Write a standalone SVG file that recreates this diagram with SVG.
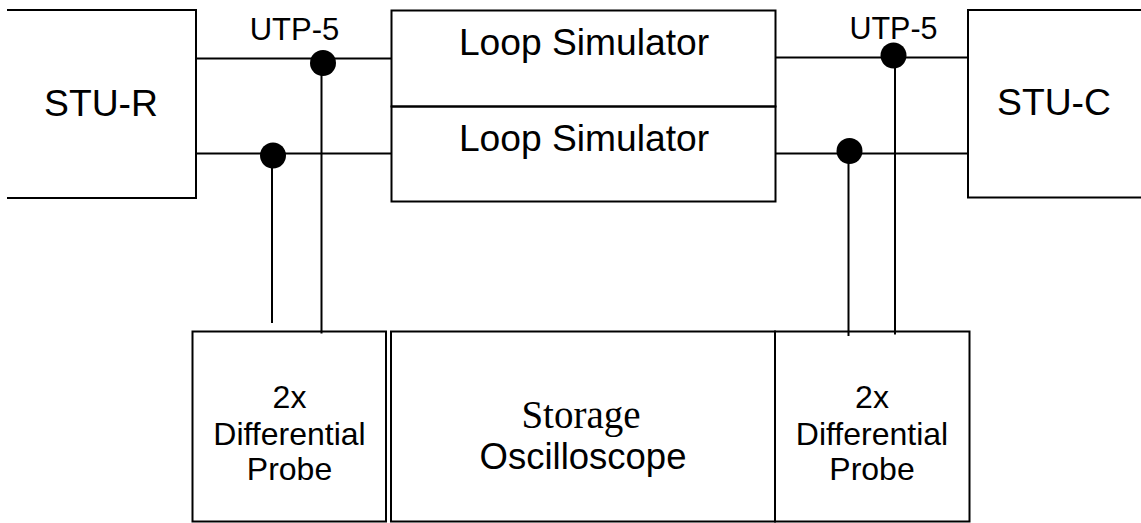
<svg xmlns="http://www.w3.org/2000/svg" width="1141" height="523" viewBox="0 0 1141 523">
<style>
.box{fill:none;stroke:#000;stroke-width:2}
.wire{fill:none;stroke:#000;stroke-width:2}
.dot{fill:#000}
.s{font-family:"Liberation Sans",Arial,sans-serif;fill:#000;text-anchor:middle}
.t{font-family:"Liberation Serif","Times New Roman",serif;fill:#000;text-anchor:middle}
</style>
<rect width="1141" height="523" fill="#fff"/>
<g id="stu-r">
<path class="box" d="M7,10 H196 V198 H7"/>
<text class="s" x="101" y="116" font-size="37.3">STU-R</text>
</g>
<g id="stu-c">
<path class="box" d="M1141,10 H968 V197.5 H1141"/>
<text class="s" x="1054" y="115" font-size="37.3">STU-C</text>
</g>
<g id="loop-sim-1">
<rect class="box" x="391.5" y="10.5" width="384" height="96"/>
<text class="s" x="584" y="55" font-size="37.2">Loop Simulator</text>
</g>
<g id="loop-sim-2">
<rect class="box" x="391.5" y="106.5" width="384" height="95"/>
<text class="s" x="584" y="150.5" font-size="37.2">Loop Simulator</text>
</g>
<g id="probe-left">
<rect class="box" x="192.5" y="331.5" width="193.5" height="190"/>
<text class="s" font-size="32" x="289.5" y="408">2x</text>
<text class="s" font-size="32" x="289.5" y="444.5">Differential</text>
<text class="s" font-size="32" x="289.5" y="480">Probe</text>
</g>
<g id="oscilloscope">
<rect class="box" x="391" y="331.5" width="384" height="190"/>
<text class="t" font-size="39" x="581" y="427.5">Storage</text>
<text class="s" font-size="36.5" x="583" y="468.5">Oscilloscope</text>
</g>
<g id="probe-right">
<rect class="box" x="775" y="331.5" width="194.5" height="190"/>
<text class="s" font-size="32" x="872" y="408">2x</text>
<text class="s" font-size="32" x="872" y="444.5">Differential</text>
<text class="s" font-size="32" x="872" y="480">Probe</text>
</g>
<g id="labels">
<text class="s" font-size="31" x="294.5" y="39.5">UTP-5</text>
<text class="s" font-size="30.5" x="893.5" y="39">UTP-5</text>
</g>
<g id="connectors">
<line class="wire" x1="197" y1="58.5" x2="391" y2="58.5"/>
<line class="wire" x1="197" y1="153.5" x2="391" y2="153.5"/>
<line class="wire" x1="776" y1="57.5" x2="968" y2="57.5"/>
<line class="wire" x1="776" y1="153.5" x2="968" y2="153.5"/>
<line class="wire" x1="321.5" y1="63" x2="321.5" y2="333.5"/>
<line class="wire" x1="272" y1="155" x2="272" y2="323"/>
<line class="wire" x1="895" y1="55" x2="895" y2="334.5"/>
<line class="wire" x1="848.5" y1="151" x2="848.5" y2="336"/>
<circle class="dot" cx="323" cy="63" r="13"/>
<circle class="dot" cx="273" cy="155.5" r="13"/>
<circle class="dot" cx="893.5" cy="55.5" r="13"/>
<circle class="dot" cx="849.5" cy="151" r="13"/>
</g>
</svg>
